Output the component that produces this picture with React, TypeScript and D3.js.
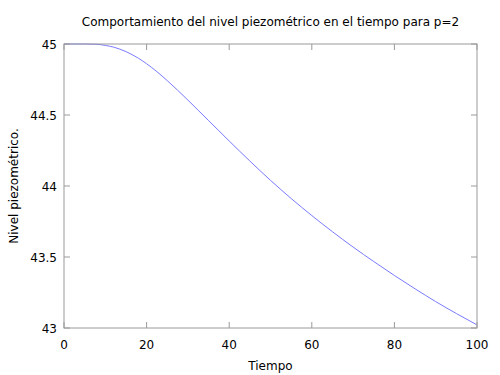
import React from "react";
import * as d3 from "d3";

const times = [0, 5, 8, 10, 12, 15, 18, 20, 22.5, 25, 27.5, 30, 32.5, 35, 37.5, 40, 42.5, 45, 47.5, 50, 55, 60, 65, 70, 75, 80, 85, 90, 95, 100];
const levels = [45, 45, 44.998, 44.99, 44.978, 44.9465, 44.9, 44.861, 44.805, 44.742, 44.675, 44.605, 44.533, 44.461, 44.389, 44.317, 44.246, 44.176, 44.107, 44.04, 43.912, 43.792, 43.678, 43.57, 43.468, 43.37, 43.276, 43.186, 43.102, 43.022];
const xTicks = [0, 20, 40, 60, 80, 100];
const yTicks = [43, 43.5, 44, 44.5, 45];
const title = "Comportamiento del nivel piezométrico en el tiempo para p=2";
const xLabel = "Tiempo";
const yLabel = "Nivel piezométrico.";

export default function App() {
  const W = 500, H = 375;
  const L = 64, R = 477, T = 44, B = 328;
  const x = d3.scaleLinear().domain([0, 100]).range([L, R]);
  const y = d3.scaleLinear().domain([43, 45]).range([B, T]);
  const line = d3.line<number>().x((_, i) => x(times[i])).y((d) => y(d)).curve(d3.curveMonotoneX);
  const font = "DejaVu Sans, sans-serif";
  const axisColor = "#9a9a9a";
  const tl = 6;
  return (
    <svg width={W} height={H} style={{ position: "absolute", left: 0, top: 0, background: "#fff" }} fontFamily={font}>
      <rect x={0} y={0} width={W} height={H} fill="#fff" />
      <text x={(L + R) / 2} y={26} textAnchor="middle" fontSize={12} fill="#000">{title}</text>
      <path d={line(levels) || ""} fill="none" stroke="#7a7aff" strokeWidth={1} />
      <rect x={L} y={T} width={R - L} height={B - T} fill="none" stroke={axisColor} strokeWidth={1} />
      {xTicks.map((t) => (
        <g key={"x" + t}>
          <line x1={x(t)} x2={x(t)} y1={B} y2={B - tl} stroke={axisColor} />
          <line x1={x(t)} x2={x(t)} y1={T} y2={T + tl} stroke={axisColor} />
          <text x={x(t)} y={349} textAnchor="middle" fontSize={12} fill="#000">{t}</text>
        </g>
      ))}
      {yTicks.map((t) => (
        <g key={"y" + t}>
          <line x1={L} x2={L + tl} y1={y(t)} y2={y(t)} stroke={axisColor} />
          <line x1={R} x2={R - tl} y1={y(t)} y2={y(t)} stroke={axisColor} />
          <text x={57} y={y(t) + 4.5} textAnchor="end" fontSize={12} fill="#000">{t}</text>
        </g>
      ))}
      <text x={(L + R) / 2} y={370} textAnchor="middle" fontSize={12} fill="#000">{xLabel}</text>
      <text transform={`translate(18,${(T + B) / 2}) rotate(-90)`} textAnchor="middle" fontSize={12} fill="#000">{yLabel}</text>
    </svg>
  );
}
